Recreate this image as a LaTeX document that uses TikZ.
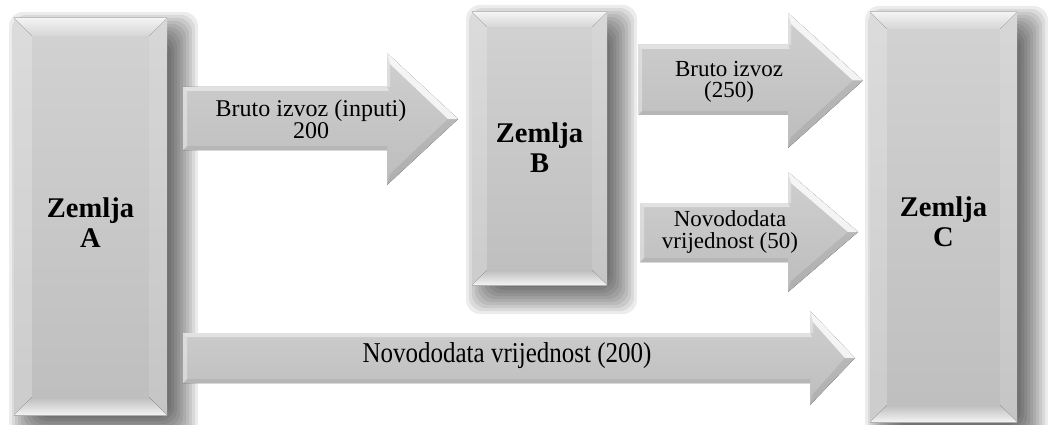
\documentclass[tikz,border=0pt]{standalone}
\usepackage{fontspec}
\setmainfont{Liberation Serif}
\usetikzlibrary{calc}

\definecolor{bodytop}{HTML}{D2D2D2}
\definecolor{bodybot}{HTML}{BEBEBE}
\definecolor{bevellight}{HTML}{F4F4F4}
\definecolor{bevelmid}{HTML}{D6D6D6}
\definecolor{arrowtop}{HTML}{CFCFCF}
\definecolor{arrowbot}{HTML}{BDBDBD}

\tikzset{
  land/.style={rectangle, draw=none, inner sep=0pt, top color=bodytop, bottom color=bodybot},
  landlabel/.style={align=center, inner sep=0pt, font=\fontsize{28.5}{30}\selectfont\bfseries},
  flowlabel/.style={align=center, inner sep=0pt, font=\fontsize{24}{21}\selectfont},
}

% soft drop shadow under a box: #1..#4 box corners (x1,y1,x2,y2), #5/#6 offset
\newcommand\softshadow[6]{%
  \foreach \k in {0,...,11}{%
    \fill[black, opacity=.075, rounded corners=14pt]
      (#1+#5-18+\k*3, #2+#6-18+\k*3) rectangle (#3+#5+18-\k*3, #4+#6+18-\k*3);
  }%
}

% bevelled edges of a country box: #1 node name, #2 bevel depth
\newcommand\bevelframe[2]{%
  \fill[top color=bevellight, bottom color=bevelmid]
    (#1.north west) -- (#1.north east) -- ($(#1.north east)+(-#2,#2)$) -- ($(#1.north west)+(#2,#2)$) -- cycle;
  \fill[top color=bodybot, bottom color=bevellight]
    (#1.south west) -- (#1.south east) -- ($(#1.south east)+(-#2,-#2)$) -- ($(#1.south west)+(#2,-#2)$) -- cycle;
  \fill[white, opacity=.22]
    (#1.north west) -- ($(#1.north west)+(#2,#2)$) -- ($(#1.south west)+(#2,-#2)$) -- (#1.south west) -- cycle;
  \fill[white, opacity=.12]
    (#1.north east) -- ($(#1.north east)+(-#2,#2)$) -- ($(#1.south east)+(-#2,-#2)$) -- (#1.south east) -- cycle;
}

% block arrow: #1 tail x, #2 head base x, #3 tip x, #4/#5 shaft top/bottom y, #6/#7 head top/bottom y
\newcommand\flowarrow[7]{%
  \pgfmathsetmacro\ymid{(#6+#7)/2}
  \fill[top color=arrowtop, bottom color=arrowbot]
    (#1,#4) -- (#2,#4) -- (#2,#6) -- (#3,\ymid) -- (#2,#7) -- (#2,#5) -- (#1,#5) -- cycle;
  % light rim along the top of the shaft and the tail
  \fill[white, opacity=.45] (#1,#4) -- (#2,#4) -- (#2+2,#4+4) -- (#1+4,#4+4) -- cycle;
  \fill[white, opacity=.35] (#1,#4) -- (#1+4,#4+4) -- (#1+4,#5-4) -- (#1,#5) -- cycle;
  % darker rim along the bottom of the shaft
  \fill[black, opacity=.06] (#1,#5) -- (#2,#5) -- (#2,#5-4) -- (#1+4,#5-4) -- cycle;
  % highlight on the upper edge of the head
  \fill[white, opacity=.8] (#2,#6) -- (#3,\ymid) -- (#3-10,\ymid) -- (#2+3,#6+11) -- cycle;
  \fill[white, opacity=.35] (#2,#6) -- (#2+3,#6+11) -- (#2+3,#4) -- (#2,#4) -- cycle;
  % shade on the lower edge of the head
  \fill[black, opacity=.07] (#2,#7) -- (#3,\ymid) -- (#3-10,\ymid) -- (#2+3,#7-11) -- cycle;
}

\begin{document}
\begin{tikzpicture}[x=1pt, y=-1pt]
  \useasboundingbox[fill=white] (0,0) rectangle (1048,425);

  % shadows of the three countries
  \softshadow{14}{18}{167}{415}{13}{12}
  \softshadow{472}{12}{607}{285}{12}{11}
  \softshadow{870}{12}{1017}{422}{13}{12}

  % the three countries
  \node[land, minimum width=153pt, minimum height=397pt] (A) at (90.5,216.5) {};
  \node[land, minimum width=135pt, minimum height=273pt] (B) at (539.5,148.5) {};
  \node[land, minimum width=147pt, minimum height=410pt] (C) at (943.5,217) {};
  \bevelframe{A}{18}
  \bevelframe{B}{15}
  \bevelframe{C}{17}
  \node[landlabel] (lA) at ($(A.center)+(0,6)$) {Zemlja\\A};
  \node[landlabel] (lB) at ($(B.center)+(0,-1)$) {Zemlja\\B};
  \node[landlabel] (lC) at ($(C.center)+(0,5)$) {Zemlja\\C};

  % flows between them
  \flowarrow{183}{387}{458}{87}{150}{53}{185}
  \flowarrow{638}{788}{863}{45}{115}{13}{148}
  \flowarrow{640}{788}{858}{203}{262}{172}{292}
  \flowarrow{183}{810}{855}{333}{383}{311}{405}

  \node[flowlabel] (f1) at (311,119) {Bruto izvoz (inputi)\\200};
  \node[flowlabel, font=\fontsize{23}{21}\selectfont] (f2) at (729,82) {Bruto izvoz\\(250)};
  \node[flowlabel, font=\fontsize{23}{21.5}\selectfont] (f3) at (730,232) {Novododata\\vrijednost (50)};
  \node[flowlabel] (f4) at (507,356) {\scalebox{1}[1.15]{\fontsize{25}{25}\selectfont Novododata vrijednost (200)}};
\end{tikzpicture}
\end{document}
